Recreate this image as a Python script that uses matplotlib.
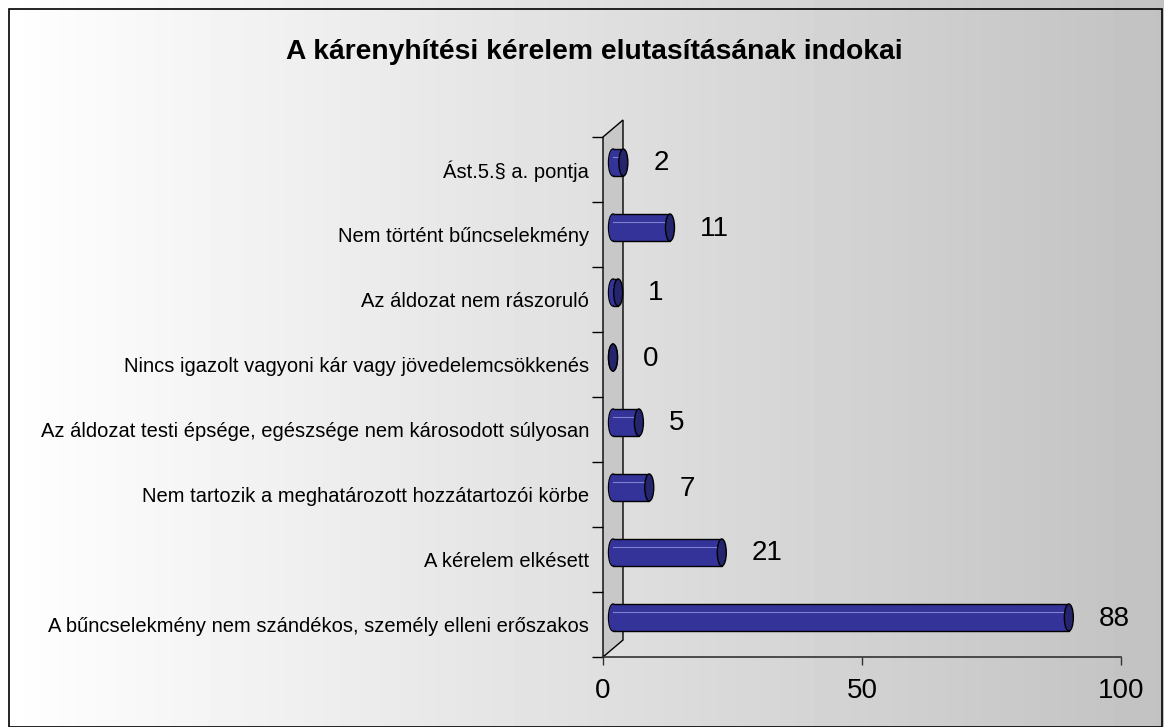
import numpy as np
import matplotlib
matplotlib.use("Agg")
import matplotlib.pyplot as plt
from matplotlib.patches import Ellipse, Polygon, Rectangle

plt.rcParams["font.family"] = ["Liberation Sans", "DejaVu Sans"]

# data, listed from bottom to top
categories = [
    "A bűncselekmény nem szándékos, személy elleni erőszakos",
    "A kérelem elkésett",
    "Nem tartozik a meghatározott hozzátartozói körbe",
    "Az áldozat testi épsége, egészsége nem károsodott súlyosan",
    "Nincs igazolt vagyoni kár vagy jövedelemcsökkenés",
    "Az áldozat nem rászoruló",
    "Nem történt bűncselekmény",
    "Ást.5.§ a. pontja",
]
values = [88, 21, 7, 5, 0, 1, 11, 2]
title = "A kárenyhítési kérelem elutasításának indokai"
xticks = [0, 50, 100]

W, H = 1164, 727
fig = plt.figure(figsize=(W / 100, H / 100), dpi=100)

# gradient background
bg = fig.add_axes([0, 0, 1, 1], zorder=-10)
grad = np.linspace(1.0, 0.76, 256)
bg.imshow(np.tile(grad, (2, 1)), cmap="gray", vmin=0, vmax=1,
          aspect="auto", extent=[0, 1, 0, 1])
bg.set_xlim(0, 1)
bg.set_ylim(0, 1)
bg.axis("off")
bg.add_patch(Rectangle((8.5 / W, 0.5 / H), (1162 - 8.5) / W, (717.5) / H,
                       fill=False, edgecolor="black", lw=1.2,
                       transform=bg.transAxes))

# plot area (pixels measured from reference)
x_left, x_right, y_top, y_bot = 603, 1121, 137, 657
ax = fig.add_axes([x_left / W, 1 - y_bot / H, (x_right - x_left) / W,
                   (y_bot - y_top) / H])
ax.patch.set_alpha(0)
ax.set_xlim(0, 100)
ax.set_ylim(-0.5, len(values) - 0.5)

px_x = 100 / (x_right - x_left)          # data units per pixel (x)
px_y = len(values) / (y_bot - y_top)     # data units per pixel (y)

# side wall
dx, dy = 20 * px_x, 17 * px_y
n = len(values)
wall = Polygon([(0, -0.5), (dx, -0.5 + dy), (dx, n - 0.5 + dy), (0, n - 0.5)],
               closed=True, facecolor="#c8c8c8", edgecolor="black", lw=1.0,
               clip_on=False, zorder=1)
ax.add_patch(wall)

# cylinders
x0 = 10 * px_x
yshift = 7 * px_y
h = 27 * px_y
ew = 9 * px_x
ypos = np.arange(n) + yshift
for y, v in zip(ypos, values):
    ax.add_patch(Ellipse((x0, y), ew, h, facecolor="#333399", edgecolor="black",
                         lw=1.0, zorder=3, clip_on=False))
ax.barh(ypos, values, left=x0, height=h, color="#333399", edgecolor="black",
        lw=1.0, zorder=4)
for y, v in zip(ypos, values):
    ax.add_patch(Ellipse((x0, y), ew * 0.9, h * 0.96, facecolor="#333399",
                         edgecolor="none", zorder=4.5, clip_on=False))
    if v > 0:
        ax.plot([x0, x0 + v], [y + h * 0.2] * 2, color="#8080d0", lw=0.8,
                zorder=5)
    ax.add_patch(Ellipse((x0 + v, y), ew, h, facecolor="#25256e",
                         edgecolor="black", lw=1.0, zorder=6, clip_on=False))
    ax.annotate(str(v), (x0 + v, y), xytext=(30, -1), textcoords="offset pixels",
                ha="left", va="center", fontsize=20, zorder=7)

# axes styling
for s in ["top", "right", "left"]:
    ax.spines[s].set_visible(False)
ax.spines["bottom"].set_color("#333333")
ax.spines["bottom"].set_linewidth(1.2)
ax.set_xticks(xticks)
ax.tick_params(axis="x", direction="out", length=6, width=1, color="#333333",
               labelsize=20, pad=9)
ax.set_yticks(np.arange(n))
ax.set_yticklabels(categories, fontsize=14.5)
ax.set_yticks(np.arange(n + 1) - 0.5, minor=True)
ax.tick_params(axis="y", which="major", length=0, pad=10)
ax.tick_params(axis="y", which="minor", length=8, width=1, direction="out")

fig.text(594 / W, 1 - 52 / H, title, ha="center", va="center",
         fontsize=20.3, fontweight="bold")

fig.savefig("out.png", dpi=100)
